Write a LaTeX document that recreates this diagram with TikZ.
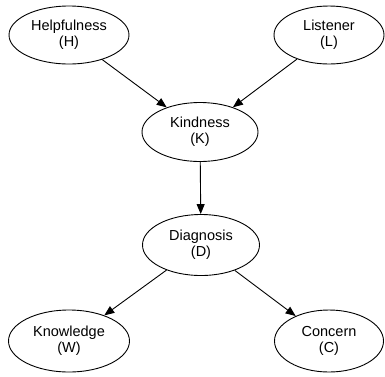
\documentclass[tikz,border=0pt]{standalone}
\usepackage{fontspec}
\setmainfont{Liberation Sans}
\usetikzlibrary{shapes.geometric,arrows.meta}
\begin{document}
\begin{tikzpicture}[x=1pt,y=-1pt,
  var/.style={ellipse,draw=black,line width=0.9pt,inner sep=0pt,align=center,
    font=\fontsize{14.5}{16}\selectfont},
  edge/.style={draw=black,line width=0.9pt,-{Triangle[length=10pt,width=8pt]}}]
\useasboundingbox (0,0) rectangle (385,376);
\node[var,minimum width=120pt,minimum height=58pt] (H) at (69,35) {Helpfulness\\(H)};
\node[var,minimum width=110pt,minimum height=58pt] (L) at (329,35) {Listener\\(L)};
\node[var,minimum width=116pt,minimum height=59pt] (K) at (200,132) {Kindness\\(K)};
\node[var,minimum width=117pt,minimum height=61pt] (D) at (201,245) {Diagnosis\\(D)};
\node[var,minimum width=121pt,minimum height=62pt] (W) at (69,341) {Knowledge\\(W)};
\node[var,minimum width=109pt,minimum height=62pt] (C) at (329,341) {Concern\\(C)};
\draw[edge] (H) -- (K);
\draw[edge] (L) -- (K);
\draw[edge] (K) -- (D);
\draw[edge] (D) -- (W);
\draw[edge] (D) -- (C);
\end{tikzpicture}
\end{document}
